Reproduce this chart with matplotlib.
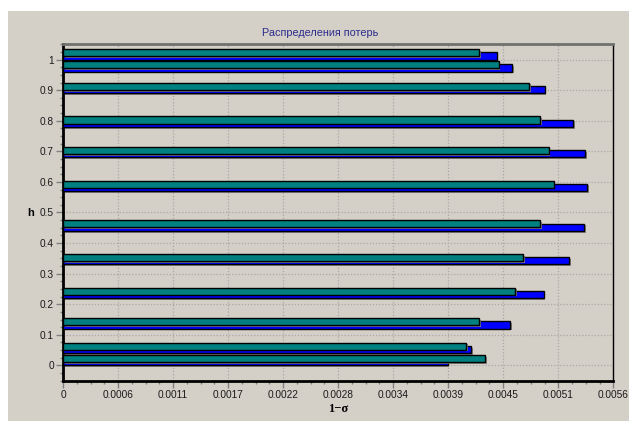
import numpy as np
import matplotlib
matplotlib.use("Agg")
import matplotlib.pyplot as plt
from matplotlib.patches import Rectangle
from matplotlib.ticker import AutoMinorLocator, FixedLocator, FixedFormatter
import matplotlib.patheffects as pe

# data
h = [0.0, 0.04, 0.12, 0.22, 0.33, 0.44, 0.57, 0.68, 0.78, 0.89, 0.96, 1.0]
loss_blue = [0.00393, 0.00417, 0.00457, 0.00491, 0.00517, 0.00532,
             0.00535, 0.00533, 0.00521, 0.00492, 0.00459, 0.00443]
loss_teal = [0.00431, 0.00412, 0.00425, 0.00462, 0.00470, 0.00487,
             0.00501, 0.00496, 0.00487, 0.00476, 0.00445, 0.00425]

x_max = 0.00562
x_tick_labels = ["0", "0.0006", "0.0011", "0.0017", "0.0022", "0.0028",
                 "0.0034", "0.0039", "0.0045", "0.0051", "0.0056"]
y_ticks = [0, 0.1, 0.2, 0.3, 0.4, 0.5, 0.6, 0.7, 0.8, 0.9, 1.0]
y_tick_labels = ["0", "0.1", "0.2", "0.3", "0.4", "0.5", "0.6", "0.7", "0.8", "0.9", "1"]

title = "Распределения потерь"
xlabel = "1\u2212\u03c3"
ylabel = "h"

PANEL = "#d4d0c8"
W, H = 629, 421

plt.rcParams["font.family"] = ["Liberation Sans", "DejaVu Sans"]

fig = plt.figure(figsize=(W / 100, H / 100), dpi=100)
fig.patch.set_facecolor("white")
fig.patches.append(Rectangle((8 / W, 0), 1 - 8 / W, 1 - 11 / H,
                             transform=fig.transFigure, facecolor=PANEL,
                             edgecolor="none", zorder=-10))

left, right, top, bottom = 63, 613.3, 44.3, 380.7
ax = fig.add_axes([left / W, 1 - bottom / H, (right - left) / W, (bottom - top) / H])
ax.set_facecolor(PANEL)

shadow = [pe.SimplePatchShadow(offset=(1.2, -1.2), shadow_rgbFace="#7a7a7a", alpha=0.9),
          pe.Normal()]
y = np.array(h)
ax.barh(y, loss_blue, height=0.024, align="edge", color="#0000ff",
        edgecolor="black", linewidth=1.0, zorder=3, path_effects=shadow)
ax.barh(y + 0.011, loss_teal, height=0.023, align="edge", color="#008080",
        edgecolor="black", linewidth=1.0, zorder=4, path_effects=shadow)

ax.set_xlim(0, x_max)
ax.set_ylim(-0.05, 1.05)

ax.xaxis.set_major_locator(FixedLocator(np.linspace(0, x_max, len(x_tick_labels))))
ax.xaxis.set_major_formatter(FixedFormatter(x_tick_labels))
ax.yaxis.set_major_locator(FixedLocator(y_ticks))
ax.yaxis.set_major_formatter(FixedFormatter(y_tick_labels))
ax.xaxis.set_minor_locator(AutoMinorLocator(4))
ax.yaxis.set_minor_locator(AutoMinorLocator(4))

ax.tick_params(which="major", length=5, width=1, color="#808080",
               labelsize=7.3, labelcolor="#1a1a1a")
ax.tick_params(which="minor", length=2.5, width=1, color="#808080")
ax.tick_params(axis="x", which="major", pad=2)
ax.tick_params(axis="y", which="major", pad=1.5)

ax.grid(True, which="major", color="#a8a8a8", linestyle=(0, (1, 1.5)), linewidth=0.9)
ax.set_axisbelow(True)

for side in ("left", "bottom"):
    ax.spines[side].set_linewidth(2)
    ax.spines[side].set_color("black")
ax.spines["top"].set_linewidth(2)
ax.spines["top"].set_color("#707070")
ax.spines["right"].set_linewidth(1)
ax.spines["right"].set_color("black")
ax.spines["right"].set_linestyle((0, (1, 1)))

ax.set_ylabel(ylabel, rotation=0, fontweight="bold", fontsize=8, va="center", ha="center")
ax.yaxis.set_label_coords((31 - left) / (right - left), 0.5)
ax.set_xlabel(xlabel, fontweight="bold", fontsize=9, family=["Liberation Serif", "DejaVu Serif"],
              va="center")
ax.xaxis.set_label_coords(0.5, (bottom - 408.5) / (bottom - top))

fig.text(320.3 / W, 1 - 32.7 / H, title, ha="center", va="center",
         fontsize=7.8, color="#2b2b8c")

fig.savefig("out.png", dpi=100, facecolor=fig.get_facecolor())
